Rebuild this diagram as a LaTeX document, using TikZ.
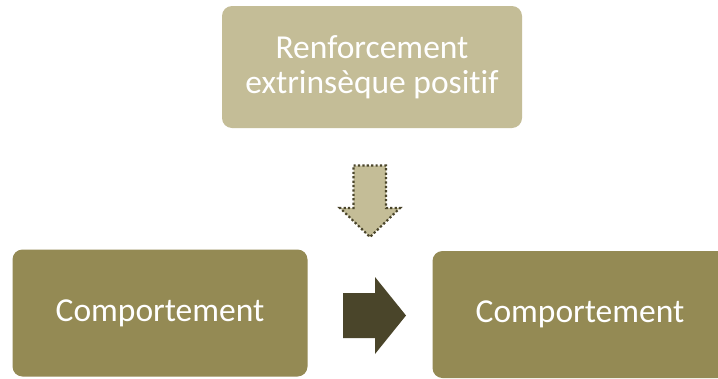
\documentclass[tikz,border=0pt]{standalone}
\usepackage{fontspec}
\setmainfont{Carlito}[Ligatures={NoCommon}]
\definecolor{tanlight}{HTML}{C4BD97}
\definecolor{olive}{HTML}{948A54}
\definecolor{darkolive}{HTML}{4A452A}
\begin{document}
\begin{tikzpicture}[x=1pt,y=-1pt,
  box/.style={rectangle, rounded corners=10pt, inner sep=0pt, text=white, align=center,
    font=\fontsize{33.5}{35}\selectfont},
  topbox/.style={box, fill=tanlight, minimum width=300pt, minimum height=122pt},
  behbox/.style={box, fill=olive, minimum width=295pt, minimum height=127pt},
  dotarrow/.style={fill=tanlight, draw=darkolive, line width=2.2pt, dash pattern=on 2.2pt off 2.2pt},
  solidarrow/.style={fill=darkolive}]
\useasboundingbox (0,0) rectangle (718,378);
\fill[white] (0,0) rectangle (718,378);
\node[topbox] (top) at (372,67) {Renforcement\\extrinsèque positif};
\node[behbox] (left) at (160,313) {Comportement};
\node[behbox] (right) at (580,314.5) {Comportement};
% down arrow (dotted outline)
\draw[dotarrow] (353.5,165.5) -- (386,165.5) -- (386,208) -- (400,208) -- (370,237) -- (340,208) -- (353.5,208) -- cycle;
% right arrow (solid)
\fill[solidarrow] (343,293) -- (375,293) -- (375,277) -- (406,315.5) -- (375,354) -- (375,338) -- (343,338) -- cycle;
\end{tikzpicture}
\end{document}
